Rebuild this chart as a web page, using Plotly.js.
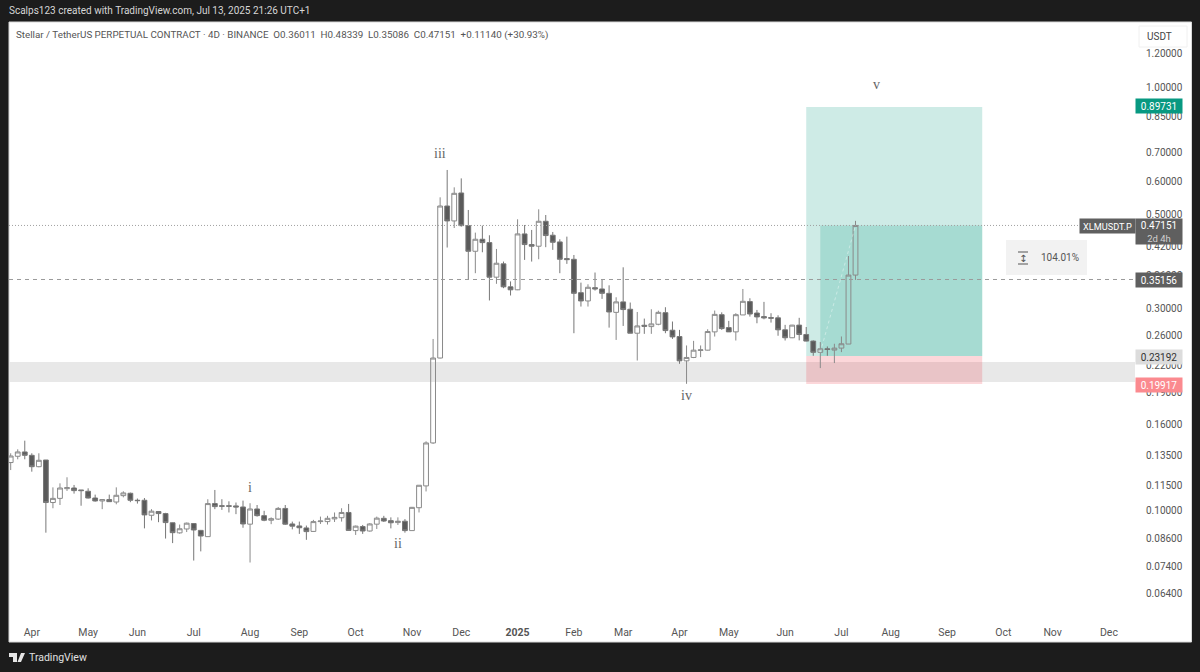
<!DOCTYPE html>
<html>
<head>
<meta charset="utf-8">
<script src="https://cdn.plot.ly/plotly-3.0.1.min.js"></script>
<style>
    html, body { margin: 0; padding: 0; background: #1c1c1c; }
</style>
</head>
<body>
<div id="grafico" style="width:1200px;height:672px;"></div>
<script>
// velas de 4 dias (una por barra)
const opens = [
    .1301,.1346,.1378,.1353,.1272,.1319,.1047,.1071,.1129,.1133,.1121,.1113,.1073,.1056,.1064,.1050,.1087,.1101,.1060,.1060,
    .0977,.0997,.0986,.0938,.0888,.0907,.0934,.0900,.0870,.1041,.1029,.1029,.1028,.1022,.0931,.1011,.0975,.0951,.0957,.1014,
    .0932,.0922,.0912,.0895,.0944,.0944,.0958,.0964,.0992,.0899,.0919,.0897,.0931,.0961,.0949,.0939,.0946,.0899,.1018,.1146,
    .1447,.2295,.5240,.4832,.5624,.4710,.4098,.4374,.4295,.3560,.3827,.3378,.3324,.4503,.4250,.4212,.4823,.4471,.4311,.3938,
    .3923,.3273,.3129,.3363,.3339,.3261,.2941,.3113,.2991,.2626,.2742,.2722,.2757,.2936,.2669,.2579,.2260,.2302,.2391,.2395,
    .2645,.2904,.2707,.2645,.2900,.3118,.2930,.2874,.2859,.2855,.2675,.2562,.2744,.2608,.2516,.2367,.2413,.2396,.2422,.2476,
    .36011
];
const highs = [
    .1368,.1398,.1465,.1368,.1368,.1319,.1137,.1162,.1201,.1152,.1121,.1131,.1093,.1066,.1093,.1137,.1113,.1105,.1070,.1073,
    .1010,.0999,.0990,.0939,.0929,.0939,.0936,.0902,.1066,.1121,.1066,.1054,.1047,.1058,.1043,.1033,.1001,.0966,.1022,.1033,
    .0944,.0944,.0924,.0953,.0970,.0974,.0992,.1015,.1039,.0924,.0927,.0936,.0970,.0974,.0966,.0966,.0957,.1022,.1150,.1460,
    .2545,.5493,.6372,.5799,.6088,.5128,.4535,.4710,.4470,.4150,.3875,.3479,.4875,.4727,.4601,.5147,.4990,.4551,.4374,.4437,
    .4016,.3456,.3425,.3651,.3507,.3406,.3192,.3756,.3102,.2947,.2843,.2991,.2968,.3024,.2798,.2674,.2457,.2519,.2457,.2683,
    .2970,.2941,.2808,.2927,.3339,.3175,.2980,.3113,.2927,.2894,.2748,.2748,.2855,.2716,.2526,.2503,.2444,.2480,.2580,.3993,
    .48339
];
const lows = [
    .1249,.1324,.1324,.1238,.1268,.0889,.1015,.1033,.1115,.1099,.1029,.1070,.1052,.1010,.1050,.1037,.1077,.1049,.1041,.0910,
    .0950,.0941,.0861,.0840,.0884,.0892,.0764,.0803,.0870,.1010,.1006,.0992,.0983,.0913,.0756,.0970,.0946,.0931,.0953,.0927,
    .0905,.0883,.0855,.0894,.0932,.0929,.0942,.0944,.0899,.0878,.0883,.0894,.0907,.0942,.0910,.0927,.0889,.0899,.0992,.1112,
    .1440,.2290,.4182,.4650,.4684,.3522,.3638,.4076,.3137,.3434,.3354,.3223,.3318,.3910,.3875,.3924,.4190,.4129,.3638,.3827,
    .2626,.3035,.3035,.3310,.3164,.2707,.2532,.2732,.2626,.2264,.2617,.2617,.2742,.2626,.2546,.2224,.1995,.2294,.2306,.2391,
    .2579,.2674,.2645,.2524,.2900,.2874,.2772,.2832,.2782,.2590,.2524,.2557,.2526,.2512,.2323,.2173,.2323,.2233,.2370,.2476,
    .35086
];
const closes = [
    .1348,.1378,.1353,.1272,.1317,.1047,.1071,.1133,.1135,.1117,.1117,.1073,.1056,.1064,.1052,.1089,.1103,.1060,.1058,.0979,
    .0999,.0986,.0939,.0889,.0908,.0936,.0902,.0873,.1041,.1024,.1026,.1026,.1022,.0932,.1011,.0975,.0951,.0959,.1014,.0931,
    .0921,.0913,.0894,.0944,.0947,.0961,.0966,.0992,.0900,.0921,.0897,.0932,.0962,.0947,.0938,.0946,.0899,.1020,.1150,.1447,
    .2295,.5240,.4832,.5614,.4710,.4098,.4374,.4295,.3560,.3840,.3378,.3324,.4503,.4250,.4212,.4823,.4463,.4303,.3924,.3917,
    .3261,.3129,.3370,.3339,.3261,.2947,.3113,.2986,.2626,.2732,.2727,.2762,.2941,.2664,.2574,.2260,.2302,.2395,.2399,.2650,
    .2909,.2693,.2645,.2904,.3123,.2915,.2869,.2854,.2849,.2675,.2562,.2744,.2608,.2516,.2367,.2413,.2404,.2422,.2480,.3601,
    .47151
];
const barras = opens.map((_, i) => i);

// eje de tiempo: la barra donde empieza cada mes
const mesBarras = [3, 11, 18, 26, 34, 41, 49, 57, 64, 72, 80, 87, 95, 102, 110, 118, 125, 133, 141, 148, 156];
const mesTextos = ["Apr", "May", "Jun", "Jul", "Aug", "Sep", "Oct", "Nov", "Dec", "<b>2025</b>", "Feb", "Mar", "Apr", "May", "Jun", "Jul", "Aug", "Sep", "Oct", "Nov", "Dec"];

// eje de precios
const precioTicks = [1.2, 1, .85, .7, .6, .5, .42, .36, .3, .26, .22, .19, .16, .135, .115, .1, .086, .074, .064];

// posicion larga y niveles
const objetivo = 0.89731, entrada = 0.23192, stop = 0.19917, ultimo = 0.47151, nivel = 0.35156;
const zonaMin = 0.2014, zonaMax = 0.2246;
const posInicio = 113, posEntrada = 115, posFin = 138;

// etiquetas de ondas
const ondaTextos = ["i", "ii", "iii", "iv", "v"];
const ondaBarras = [34, 55, 61, 96, 123];
const ondaPrecios = [.1134, .0840, .6987, .1868, 1.011];

// el area del grafico en pixeles, para pasar a coordenadas "paper"
const izq = 9, der = 1135, arriba = 22, abajo = 620;
const px = x => (x - izq) / (der - izq);
const py = y => (abajo - y) / (abajo - arriba);

const fuente = "Roboto, sans-serif";

// caja de color con texto, como las del eje de precios
function etiqueta(texto, xCentro, yCentro, ancho, alto, fondo, color) {
    return {
        xref: "paper", yref: "paper", x: px(xCentro), y: py(yCentro), xanchor: "center", yanchor: "middle",
        text: texto, showarrow: false, width: ancho, height: alto,
        bgcolor: fondo, borderpad: 0, align: "center", valign: "middle",
        font: { family: fuente, size: 10, color: color }
    };
}

function textoLibre(texto, xIzq, yCentro, color, tam) {
    return {
        xref: "paper", yref: "paper", x: px(xIzq - 1), y: py(yCentro), xanchor: "left", yanchor: "middle",
        text: texto, showarrow: false, font: { family: fuente, size: tam, color: color }
    };
}

function cajaPaper(x0, y0, x1, y1, relleno, borde) {
    return {
        type: "rect", xref: "paper", yref: "paper", layer: "below",
        x0: px(x0), x1: px(x1), y0: py(y0), y1: py(y1),
        fillcolor: relleno, line: { width: borde ? 1 : 0, color: borde || relleno }
    };
}

function cajaDatos(x0, x1, y0, y1, relleno) {
    return { type: "rect", xref: "x", yref: "y", layer: "below", x0: x0, x1: x1, y0: y0, y1: y1, fillcolor: relleno, line: { width: 0 } };
}

function lineaPaper(x0, y0, x1, y1, color) {
    return { type: "line", xref: "paper", yref: "paper", x0: px(x0), x1: px(x1), y0: py(y0), y1: py(y1), line: { width: 1, color: color } };
}

const velas = {
    type: "candlestick",
    x: barras, open: opens, high: highs, low: lows, close: closes,
    whiskerwidth: 0,
    hoverinfo: "skip",
    increasing: { line: { color: "#8a8a8a", width: 1 }, fillcolor: "rgba(255,255,255,0)" },
    decreasing: { line: { color: "#777777", width: 1 }, fillcolor: "#5a5a5a" }
};

// linea punteada clara de la posicion, de la entrada al ultimo cierre
const lineaPos = {
    type: "scatter", mode: "lines", hoverinfo: "skip",
    x: [posEntrada, barras[barras.length - 1]], y: [opens[115], ultimo],
    line: { color: "rgba(255,255,255,0.4)", width: 1, dash: "3px,3px" }
};

const formas = [
    cajaPaper(9, 22, 1191.5, 642, "#ffffff", "#d8d8d8"),
    cajaDatos(-1, 159.7, zonaMin, zonaMax, "#e8e8e8"),
    cajaDatos(posInicio, posFin, entrada, objetivo, "rgba(8,153,129,0.2)"),
    cajaDatos(posEntrada, posFin, entrada, ultimo, "rgba(8,153,129,0.2)"),
    cajaDatos(posInicio, posFin, stop, entrada, "rgba(242,54,69,0.2)"),
    { type: "line", xref: "paper", yref: "y", x0: 0, x1: px(1080), y0: ultimo, y1: ultimo, line: { color: "#a0a0a0", width: 1, dash: "1px,2px" } },
    { type: "line", xref: "paper", yref: "y", x0: 0, x1: 1, y0: nivel, y1: nivel, line: { color: "#9a9a9a", width: 1, dash: "4px,4px" } },
    // caja de unidades
    cajaPaper(1139, 26, 1187, 47, "#ffffff", "#f0f0f0"),
    // caja del porcentaje
    Object.assign(cajaPaper(1006, 240, 1087, 275, "#f2f2f2"), { layer: "above" }),
    lineaPaper(1018, 252, 1028, 252, "#555555"),
    lineaPaper(1018, 264, 1028, 264, "#555555"),
    // logo de abajo
    {
        type: "path", xref: "paper", yref: "paper", fillcolor: "#e6e6e6", line: { width: 0 },
        path: `M${px(9)},${py(653)} L${px(17)},${py(653)} L${px(17)},${py(662)} L${px(13)},${py(662)} L${px(13)},${py(657)} L${px(9)},${py(657)} Z ` +
              `M${px(21)},${py(653)} L${px(25)},${py(653)} L${px(21)},${py(662)} L${px(17.5)},${py(662)} Z`
    }
];

const anotaciones = ondaTextos.map((t, i) => ({
    xref: "x", yref: "y", x: ondaBarras[i], y: Math.log10(ondaPrecios[i]),
    text: t, showarrow: false, opacity: 0.9,
    font: { family: "Liberation Serif, serif", size: 14, color: "#555555" }
}));

anotaciones.push(
    textoLibre("Scalps123 created with TradingView.com, Jul 13, 2025 21:26 UTC+1", 8, 11, "#d6d6d6", 10),
    textoLibre("Stellar / TetherUS PERPETUAL CONTRACT · 4D · BINANCE &nbsp;O0.36011 &nbsp;H0.48339 &nbsp;L0.35086 &nbsp;C0.47151 &nbsp;+0.11140 (+30.93%)", 15, 35, "#555555", 9.8),
    textoLibre("TradingView", 28, 657, "#e0e0e0", 10.5),
    textoLibre("USDT", 1146, 36.5, "#444444", 10),
    textoLibre("104.01%", 1040, 257, "#555555", 10),
    { xref: "paper", yref: "paper", x: px(1023), y: py(258), xanchor: "center", yanchor: "middle", text: "↕", showarrow: false, font: { family: "DejaVu Sans", size: 10, color: "#555555" } },
    etiqueta("0.89731", 1159, 106, 46, 14, "#089981", "#ffffff"),
    etiqueta("<span style='font-size:9.2px'>XLMUSDT.P</span>", 1107.5, 226, 55, 14, "#5f5f5f", "#ffffff"),
    etiqueta("0.47151<br><span style='font-size:9.5px;color:#d0d0d0'>2d 4h</span>", 1159, 231.5, 46, 25, "#5f5f5f", "#ffffff"),
    etiqueta("0.35156", 1159, 280, 46, 14, "#5f5f5f", "#ffffff"),
    etiqueta("0.23192", 1159, 356.5, 46, 14, "#dcdcdc", "#333333"),
    etiqueta("0.19917", 1159, 384.5, 46, 14, "#fb8a8f", "#ffffff")
);

const layout = {
    width: 1200, height: 672,
    autosize: false,
    showlegend: false,
    paper_bgcolor: "#1c1c1c",
    plot_bgcolor: "rgba(0,0,0,0)",
    margin: { l: izq, r: 1200 - der, t: arriba, b: 672 - abajo, pad: 0 },
    boxgap: 0.15,
    boxgroupgap: 0.2,
    xaxis: {
        type: "linear",
        range: [-0.24, 159.7],
        tickvals: mesBarras, ticktext: mesTextos,
        showgrid: false, zeroline: false, showline: false,
        ticklen: 2, tickcolor: "rgba(0,0,0,0)",
        tickfont: { family: fuente, size: 10.5, color: "#555555" },
        rangeslider: { visible: false }
    },
    yaxis: {
        type: "log",
        side: "right",
        range: [-1.2571, 0.1533],
        tickvals: precioTicks,
        ticktext: precioTicks.map(v => v.toFixed(5)),
        showgrid: false, zeroline: false, showline: false,
        ticklen: 8, tickcolor: "rgba(0,0,0,0)",
        tickfont: { family: fuente, size: 10, color: "#555555" }
    },
    shapes: formas,
    annotations: anotaciones
};

Plotly.newPlot("grafico", [velas, lineaPos], layout, { displayModeBar: false, staticPlot: true });
</script>
</body>
</html>
